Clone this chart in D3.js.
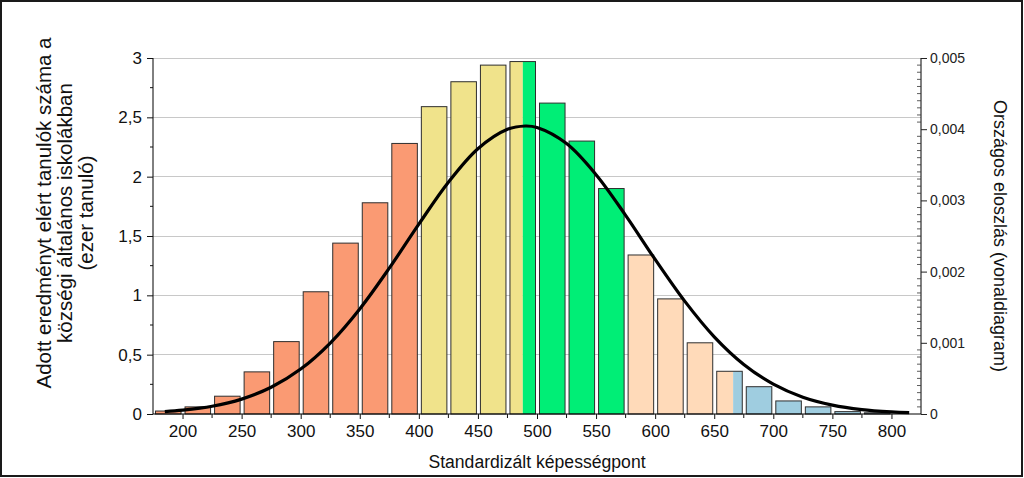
<!DOCTYPE html>
<html>
<head>
<meta charset="utf-8">
<script src="https://cdn.jsdelivr.net/npm/d3@7"></script>
<style>
  html, body { margin: 0; padding: 0; background: #fff; }
  svg { display: block; font-family: "Liberation Sans", Arial, sans-serif; }
</style>
</head>
<body>
<svg id="chart" width="1024" height="478"></svg>
<script>
// ---- data ----
const binStarts = [175,200,225,250,275,300,325,350,375,400,425,450,475,500,525,550,575,600,625,650,675,700,725,750,775];
const binWidth = 25;
const counts = [0.025,0.06,0.15,0.355,0.61,1.03,1.44,1.78,2.28,2.59,2.80,2.94,2.97,2.62,2.30,1.90,1.34,0.97,0.60,0.36,0.23,0.11,0.06,0.02,0.01];
const levelBounds = [175,400,488,575,666,825];
const levelColors = ["#FA9A73","#F0E38B","#00EE76","#FFDAB9","#9FCDE0"];
const curveX = [185,200,225,250,275,300,325,350,375,400,425,450,475,490,500,525,550,575,600,625,650,675,700,725,750,775,800,815];
const curveY = [0.000034,0.000054,0.000109,0.000209,0.000375,0.000631,0.000997,0.001476,0.002049,0.002667,0.003255,0.003726,0.003999,0.004045,0.004024,0.003798,0.003361,0.002790,0.002171,0.001585,0.001084,0.000696,0.000419,0.000236,0.000125,0.000062,0.000029,0.000018];
const xTickLabels = [200,250,300,350,400,450,500,550,600,650,700,750,800];
const yLeftTicks = [0,0.5,1,1.5,2,2.5,3];
const yRightTicks = [0,0.001,0.002,0.003,0.004,0.005];
const yLeftTitle = ["Adott eredményt elért tanulók száma a","községi általános iskolákban","(ezer tanuló)"];
const yRightTitle = "Országos eloszlás (vonaldiagram)";
const xTitle = "Standardizált képességpont";

// ---- layout ----
const L = 153, R = 921, T = 58, B = 414;
const svg = d3.select("#chart");
svg.append("rect").attr("x",1).attr("y",1).attr("width",1021).attr("height",475)
  .attr("fill","#fff").attr("stroke","#1a1a1a").attr("stroke-width",2);

const x = d3.scaleLinear().domain([175,825]).range([L,R]);
const yL = d3.scaleLinear().domain([0,3]).range([B,T]);
const yR = d3.scaleLinear().domain([0,0.005]).range([B,T]);
const fmt = d => String(d).replace(".", ",");

// grid
svg.append("g").selectAll("line").data(yLeftTicks.filter(d=>d>0)).join("line")
  .attr("x1",L).attr("x2",R).attr("y1",d=>yL(d)).attr("y2",d=>yL(d))
  .attr("stroke","#c8c8c8").attr("stroke-width",1).attr("shape-rendering","crispEdges");

// bars
const bars = svg.append("g");
binStarts.forEach((lo,i) => {
  const hi = lo + binWidth;
  const x0 = x(lo) + 2.5, x1 = x(hi) - 1.5;
  const yt = yL(counts[i]);
  for (let k = 0; k < levelColors.length; k++) {
    const a = Math.max(x0, x(levelBounds[k])), b = Math.min(x1, x(levelBounds[k+1]));
    if (b > a) bars.append("rect").attr("x",a).attr("y",yt).attr("width",b-a).attr("height",B-yt)
      .attr("fill",levelColors[k]);
  }
  bars.append("rect").attr("x",x0).attr("y",yt).attr("width",x1-x0).attr("height",B-yt)
    .attr("fill","none").attr("stroke","#2e2e2e").attr("stroke-width",1);
});

// curve
const pts = curveX.map((v,i)=>[v,curveY[i]]);
svg.append("path").datum(pts)
  .attr("d", d3.line().x(d=>x(d[0])).y(d=>yR(d[1])).curve(d3.curveCatmullRom))
  .attr("fill","none").attr("stroke","#000").attr("stroke-width",3.2);

// left axis
const gl = svg.append("g").attr("transform",`translate(${L},0)`);
gl.call(d3.axisLeft(yL).tickValues(yLeftTicks).tickSize(6).tickPadding(5).tickFormat(fmt));
gl.select(".domain").attr("d",`M0,${T}V${B}`);
gl.selectAll("text").attr("font-size",17).attr("fill","#111").attr("font-family","Liberation Sans, Arial, sans-serif");
gl.selectAll("line").attr("stroke","#111");
gl.selectAll(".minor").data(d3.range(0.25,3,0.5)).join("line").attr("class","minor")
  .attr("x1",0).attr("x2",-3).attr("y1",d=>yL(d)).attr("y2",d=>yL(d)).attr("stroke","#111");

// right axis
const gr = svg.append("g").attr("transform",`translate(${R},0)`);
gr.call(d3.axisRight(yR).tickValues(yRightTicks).tickSize(6).tickPadding(3).tickFormat(d => d===0 ? "0" : fmt(d3.format(".3f")(d))));
gr.select(".domain").attr("d",`M0,${T}V${B}`);
gr.selectAll("text").attr("font-size",14).attr("fill","#222").attr("font-family","Liberation Sans, Arial, sans-serif");
gr.selectAll("line").attr("stroke","#222");
gr.selectAll(".minor").data(d3.range(1,50).filter(i=>i%10!==0).map(i=>i*0.0001)).join("line").attr("class","minor")
  .attr("x1",0).attr("x2",-4).attr("y1",d=>yR(d)).attr("y2",d=>yR(d)).attr("stroke","#333").attr("stroke-width",0.8);

// bottom axis
const gb = svg.append("g").attr("transform",`translate(0,${B})`);
gb.call(d3.axisBottom(x).tickValues(xTickLabels).tickSize(5).tickPadding(6));
gb.select(".domain").attr("d",`M${L},0H${R}`);
gb.selectAll("text").attr("font-size",17).attr("fill","#111").attr("font-family","Liberation Sans, Arial, sans-serif");
gb.selectAll("line").attr("stroke","#111");
gb.selectAll(".minor").data(d3.range(225,825,50)).join("line").attr("class","minor")
  .attr("x1",d=>x(d)).attr("x2",d=>x(d)).attr("y1",0).attr("y2",4).attr("stroke","#111");

// titles
svg.append("text").attr("x",537).attr("y",468).attr("text-anchor","middle")
  .attr("font-size",17.6).attr("fill","#111").text(xTitle);
const lt = svg.append("text").attr("transform","translate(51,213) rotate(-90)").attr("text-anchor","middle")
  .attr("font-size",20.5).attr("fill","#111");
yLeftTitle.forEach((s,i)=> lt.append("tspan").attr("x",0).attr("y",i*21).text(s));
svg.append("text").attr("transform","translate(994,236) rotate(90)").attr("text-anchor","middle")
  .attr("font-size",18).attr("fill","#111").text(yRightTitle);
</script>
</body>
</html>
